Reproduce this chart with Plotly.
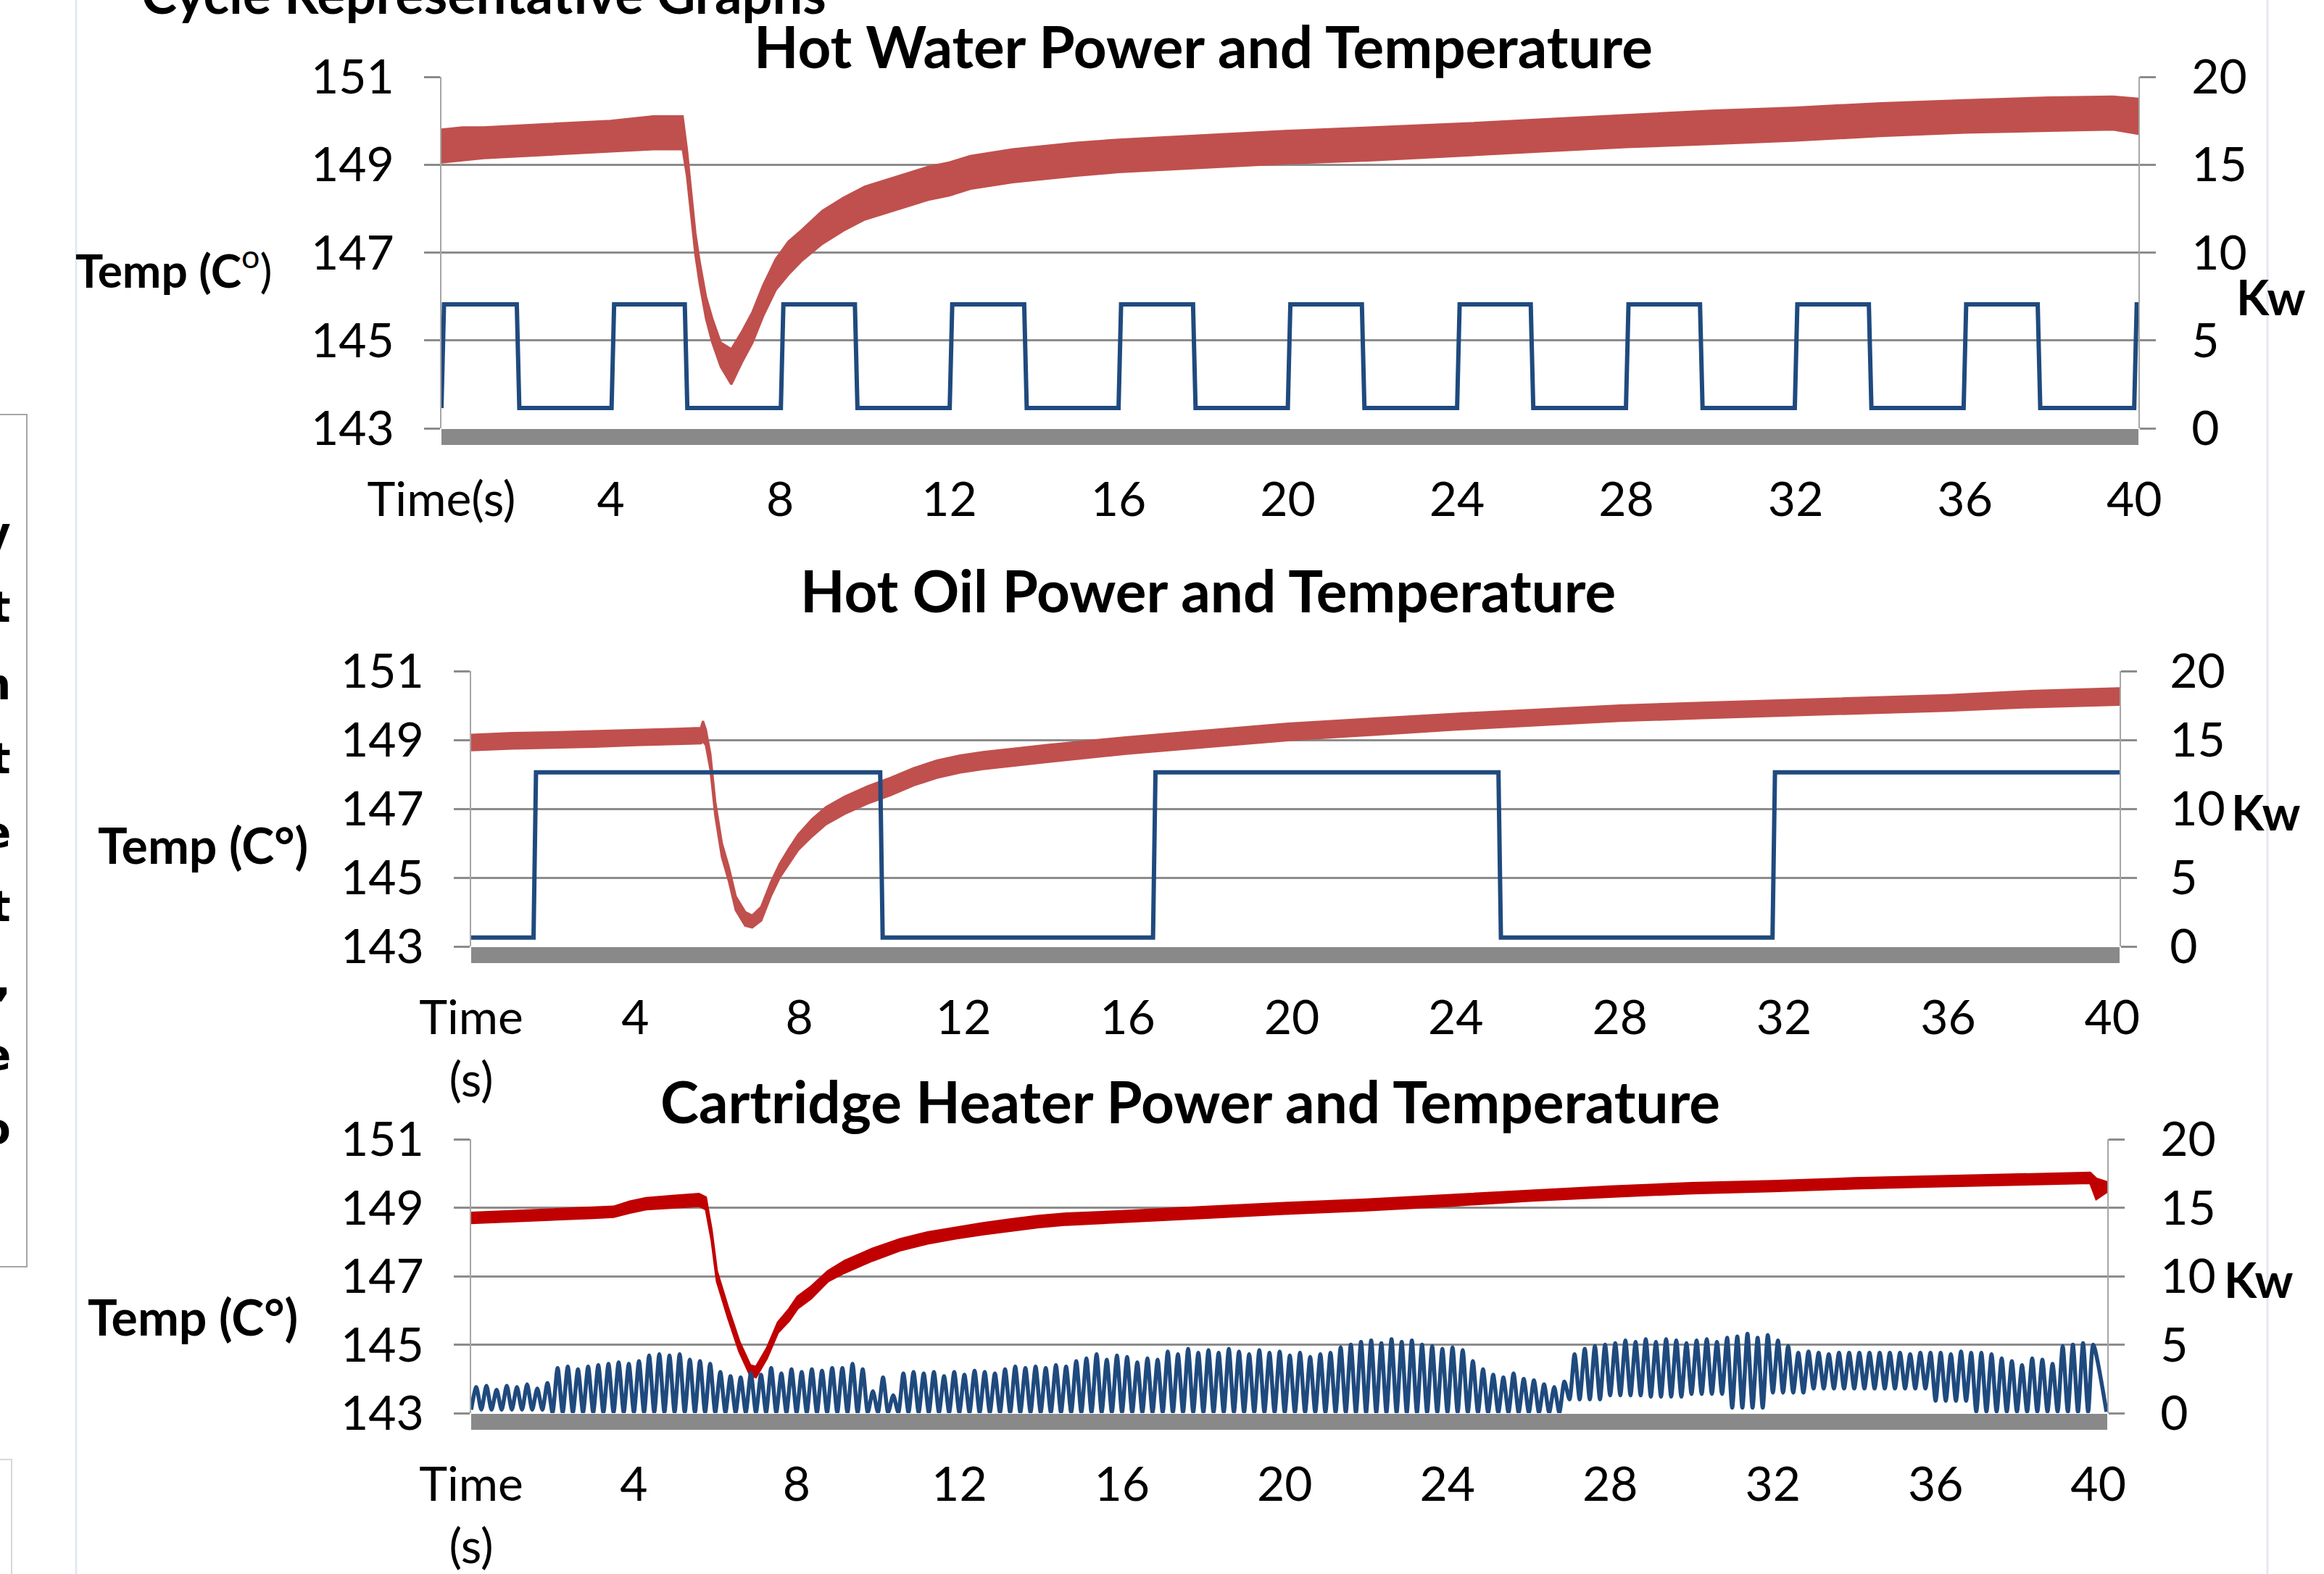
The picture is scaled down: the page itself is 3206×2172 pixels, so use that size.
import plotly.graph_objects as go

W, H = 3206, 2172

# ---------------- data ----------------
time_ticks = [0, 4, 8, 12, 16, 20, 24, 28, 32, 36, 40]
time_text_1 = ["Time(s)", "4", "8", "12", "16", "20", "24", "28", "32", "36", "40"]
time_text_2 = ["Time<br>(s)", "4", "8", "12", "16", "20", "24", "28", "32", "36", "40"]
temp_ticks = [143, 145, 147, 149, 151]
kw_ticks = [0, 5, 10, 15, 20]

# Hot water temperature band (lower / upper edge of the noisy trace)
hw_temp_t = [0, 0.5, 1, 2, 3, 4, 5, 5.7, 5.8, 5.9, 6.0, 6.1, 6.25, 6.4, 6.6, 6.85, 7.1, 7.35,
             7.6, 7.9, 8.2, 8.5, 9.0, 9.5, 10, 10.5, 11, 11.5, 12, 12.5, 13.5, 15, 16, 18, 20,
             22, 24, 26, 28, 30, 32, 34, 36, 38, 39.5, 40.1]
hw_temp_lo = [149.05, 149.10, 149.15, 149.20, 149.25, 149.30, 149.35, 149.35, 148.75, 147.85,
              146.95, 146.30, 145.50, 144.95, 144.40, 144.00, 144.50, 144.95, 145.55, 146.15,
              146.50, 146.80, 147.20, 147.50, 147.75, 147.90, 148.05, 148.20, 148.30, 148.45,
              148.60, 148.75, 148.83, 148.93, 149.03, 149.10, 149.20, 149.30, 149.40, 149.47,
              149.55, 149.65, 149.73, 149.77, 149.80, 149.70]
hw_temp_hi = [149.80, 149.85, 149.85, 149.90, 149.95, 150.00, 150.10, 150.10, 149.35, 148.40,
              147.45, 146.80, 146.00, 145.50, 144.95, 144.80, 145.20, 145.65, 146.25, 146.85,
              147.25, 147.50, 147.95, 148.25, 148.50, 148.65, 148.80, 148.95, 149.05, 149.20,
              149.35, 149.50, 149.57, 149.67, 149.77, 149.85, 149.93, 150.03, 150.13, 150.23,
              150.30, 150.40, 150.47, 150.53, 150.55, 150.50]
hw_on_t = [0.0, 4.02, 8.02, 12.01, 16.0, 20.0, 24.0, 27.99, 31.98, 35.97, 40.0]
hw_off_t = [1.78, 5.75, 9.77, 13.77, 17.76, 21.75, 25.74, 29.74, 33.73, 37.72]
hw_kw_low, hw_kw_high = 1.15, 7.05

# Hot oil
oil_temp_t = [0, 1, 2, 3, 4, 5, 5.6, 5.65, 5.72, 5.83, 5.95, 6.11, 6.28, 6.45, 6.68, 6.85, 7.07,
              7.30, 7.52, 7.75, 7.97, 8.31, 8.65, 9.10, 9.66, 10.23, 10.79, 11.35, 11.92, 12.48,
              13.25, 14, 16, 18, 20, 22, 24, 26, 28, 30, 32, 34, 36, 38, 40.18]
oil_temp_lo = [148.70, 148.75, 148.78, 148.80, 148.85, 148.88, 148.90, 148.95, 148.85, 148.15,
               146.80, 145.60, 144.90, 144.05, 143.60, 143.55, 143.75, 144.45, 145.00, 145.40,
               145.80, 146.20, 146.55, 146.85, 147.15, 147.40, 147.68, 147.90, 148.05, 148.15,
               148.25, 148.35, 148.60, 148.80, 149.00, 149.15, 149.30, 149.42, 149.55, 149.63,
               149.70, 149.78, 149.85, 149.95, 150.02]
oil_temp_hi = [149.15, 149.20, 149.22, 149.25, 149.28, 149.32, 149.35, 149.55, 149.30, 148.60,
               147.20, 146.00, 145.30, 144.45, 144.00, 143.90, 144.15, 144.85, 145.40, 145.85,
               146.25, 146.70, 147.05, 147.35, 147.65, 147.90, 148.18, 148.40, 148.55, 148.65,
               148.75, 148.85, 149.08, 149.28, 149.48, 149.62, 149.76, 149.88, 150.00, 150.08,
               150.15, 150.22, 150.30, 150.42, 150.50]
oil_on_t = [1.52, 16.62, 31.72]
oil_off_t = [9.97, 25.04]
oil_kw_low, oil_kw_high = 0.65, 12.65

# Cartridge heater
cart_temp_t = [0, 1, 2, 3, 3.5, 3.9, 4.3, 5.0, 5.6, 5.77, 5.91, 6.04, 6.31, 6.59, 6.86, 7.00, 7.27,
               7.54, 7.82, 8.02, 8.36, 8.77, 9.18, 9.86, 10.54, 11.22, 11.91, 12.59, 13.27,
               13.95, 14.63, 16.0, 18, 20, 22, 24, 26, 28, 30, 32, 34, 36, 38, 39.8, 39.95, 40.2]
cart_temp_lo = [148.55, 148.60, 148.65, 148.70, 148.73, 148.85, 148.95, 149.00, 149.05, 148.95,
                148.05, 146.85, 145.80, 144.80, 144.10, 144.05, 144.60, 145.35, 145.70, 146.05,
                146.35, 146.85, 147.10, 147.45, 147.75, 147.95, 148.10, 148.22, 148.33, 148.43,
                148.50, 148.58, 148.70, 148.82, 148.92, 149.05, 149.20, 149.32, 149.42, 149.48,
                149.56, 149.62, 149.68, 149.72, 149.25, 149.45]
cart_temp_hi = [148.85, 148.90, 148.95, 149.00, 149.03, 149.18, 149.28, 149.35, 149.40, 149.30,
                148.35, 147.15, 146.10, 145.10, 144.40, 144.35, 144.90, 145.65, 146.05, 146.40,
                146.70, 147.15, 147.45, 147.80, 148.08, 148.28, 148.42, 148.55, 148.66, 148.76,
                148.83, 148.90, 149.02, 149.14, 149.24, 149.37, 149.50, 149.62, 149.72, 149.78,
                149.86, 149.92, 149.98, 150.02, 149.85, 149.75]
# peak power of each heating cycle (4 cycles per second, 0-40 s)
cart_kw_peak = [
    1.9, 2.0, 1.7, 2.0,  1.9, 2.1, 1.8, 2.2,  3.3, 3.4, 3.2, 3.4,  3.5, 3.6, 3.7, 3.6,
    3.8, 4.2, 4.3, 4.2,  4.3, 3.9, 3.8, 3.6,  3.0, 2.7, 2.6, 2.9,  2.8, 3.3, 2.9, 3.2,
    3.0, 3.2, 3.1, 3.3,  3.3, 3.6, 3.2, 1.6,  2.6, 1.3, 2.9, 3.0,  2.9, 3.0, 2.7, 3.0,
    2.8, 3.1, 3.0, 2.9,  3.2, 3.4, 3.3, 3.4,  3.3, 3.5, 3.4, 3.8,  4.0, 4.3, 3.9, 4.2,
    4.1, 3.7, 4.0, 3.9,  4.5, 4.3, 4.7, 4.4,  4.6, 4.4, 4.7, 4.5,  4.3, 4.6, 4.4, 4.5,
    4.2, 4.4, 4.1, 4.3,  4.4, 4.8, 5.0, 5.2,  5.3, 5.1, 5.4, 5.2,  5.3, 5.0, 4.9, 4.7,
    4.8, 4.6, 3.8, 3.2,  2.8, 2.6, 2.9, 2.5,  2.4, 2.1, 1.9, 2.3,  4.3, 4.7, 4.9, 5.0,
    5.1, 5.3, 5.2, 5.4,  5.2, 5.4, 5.3, 5.1,  5.3, 5.4, 5.2, 5.5,  5.6, 5.8, 5.5, 5.7,
    5.3, 4.9, 4.4, 4.5,  4.4, 4.3, 4.4, 4.4,  4.4, 4.4, 4.4, 4.4,  4.4, 4.3, 4.4, 4.4,
    4.4, 4.3, 4.5, 4.4,  4.4, 4.3, 4.0, 3.8,  3.5, 4.0, 3.9, 3.6,  4.9, 5.0, 5.1, 5.0,
]
# trough power in each second (0-40 s)
cart_kw_trough = [0.25, 0.25, 0.05, 0.05, 0.05, 0.05, 0.05, 0.05, 0.05, 0.05,
                  0.05, 0.05, 0.05, 0.05, 0.05, 0.05, 0.05, 0.05, 0.05, 0.05,
                  0.05, 0.05, 0.05, 0.05, 0.05, 0.05, 0.05, 1.0, 1.3, 1.2,
                  1.4, 0.4, 1.5, 1.8, 1.8, 1.8, 0.9, 0.1, 0.1, 0.1]

# ---------------- styling ----------------
RED = "#C0504D"
DARK_RED = "#C00000"
BLUE = "#1F4A7E"
GRID = "#8c8c8c"
AXLINE = "#a6a6a6"
FLOOR = "#898989"
FONT = "Lato"
TICK_SIZE = 66


def square_wave(on_t, off_t, low, high, t_end, ramp=0.06):
    events = sorted([(t, 1) for t in on_t] + [(t, 0) for t in off_t])
    level = {0: low, 1: high}
    state = 0 if events[0][1] == 1 else 1
    xs, ys = [0.0], [level[state]]
    for t, s in events:
        xs += [t, t + ramp]
        ys += [level[state], level[s]]
        state = s
    xs.append(t_end)
    ys.append(level[state])
    return xs, ys


def band(t, lo, hi):
    return list(t) + list(t)[::-1], list(hi) + list(lo)[::-1]


def cycles(peaks, troughs, t_end):
    n = len(peaks)
    dt = len(troughs) / n
    xs, ys = [], []
    for i, pk in enumerate(peaks):
        sec = int(i * dt)
        xs += [i * dt, i * dt + dt / 2]
        ys += [troughs[sec], pk]
    xs.append(t_end)
    ys.append(troughs[-1])
    return xs, ys


def px(x):
    return x / W


def py(y):
    return 1 - y / H


fig = go.Figure()

panels = [
    dict(x="x", y="y", y2="y2", l=609, r=2950, t=106, b=591, xmax=40.1, ttext=time_text_1),
    dict(x="x2", y="y3", y2="y4", l=650, r=2924, t=926, b=1306, xmax=40.18, ttext=time_text_2),
    dict(x="x3", y="y5", y2="y6", l=650, r=2907, t=1572, b=1950, xmax=40.22, ttext=time_text_2),
]

# temperature traces
bx, by = band(hw_temp_t, hw_temp_lo, hw_temp_hi)
fig.add_trace(go.Scatter(x=bx, y=by, fill="toself", fillcolor=RED, mode="lines",
                         line=dict(color=RED, width=3), xaxis="x", yaxis="y", showlegend=False))
bx, by = band(oil_temp_t, oil_temp_lo, oil_temp_hi)
fig.add_trace(go.Scatter(x=bx, y=by, fill="toself", fillcolor=RED, mode="lines",
                         line=dict(color=RED, width=3), xaxis="x2", yaxis="y3", showlegend=False))
bx, by = band(cart_temp_t, cart_temp_lo, cart_temp_hi)
fig.add_trace(go.Scatter(x=bx, y=by, fill="toself", fillcolor=DARK_RED, mode="lines",
                         line=dict(color=DARK_RED, width=3), xaxis="x3", yaxis="y5", showlegend=False))

# power traces
sx, sy = square_wave(hw_on_t, hw_off_t, hw_kw_low, hw_kw_high, 40.1)
fig.add_trace(go.Scatter(x=sx, y=sy, mode="lines", line=dict(color=BLUE, width=6),
                         xaxis="x", yaxis="y2", showlegend=False))
sx, sy = square_wave(oil_on_t, oil_off_t, oil_kw_low, oil_kw_high, 40.18)
fig.add_trace(go.Scatter(x=sx, y=sy, mode="lines", line=dict(color=BLUE, width=6),
                         xaxis="x2", yaxis="y4", showlegend=False))
cx, cy = cycles(cart_kw_peak, cart_kw_trough, 40.2)
fig.add_trace(go.Scatter(x=cx, y=cy, mode="lines", line=dict(color=BLUE, width=5.5, shape="spline", smoothing=0.7),
                         xaxis="x3", yaxis="y6", showlegend=False))

layout = dict(
    width=W, height=H, margin=dict(l=0, r=0, t=0, b=0, autoexpand=False),
    paper_bgcolor="white", plot_bgcolor="white",
    font=dict(family=FONT, color="black"),
    showlegend=False,
)
shapes = []
for i, p in enumerate(panels):
    xa = "xaxis" + ("" if i == 0 else str(i + 1))
    ya = "yaxis" + ("" if i == 0 else str(2 * i + 1))
    ya2 = "yaxis" + str(2 * i + 2)
    layout[xa] = dict(
        domain=[px(p["l"]), px(p["r"])], range=[0, p["xmax"]], anchor=p["y"],
        tickvals=time_ticks, ticktext=p["ttext"], showgrid=False, zeroline=False,
        showline=False, ticks="", tickfont=dict(size=TICK_SIZE, family=FONT), ticklabelstandoff=54,
        fixedrange=True, automargin=False,
    )
    layout[ya] = dict(
        domain=[py(p["b"]), py(p["t"])], range=[143, 151], anchor=p["x"],
        tickvals=temp_ticks, showgrid=True, gridcolor=GRID, gridwidth=2.5, zeroline=False,
        showline=True, linecolor=AXLINE, linewidth=2, ticks="outside", ticklen=22,
        tickcolor=GRID, tickwidth=2.5, tickfont=dict(size=TICK_SIZE, family=FONT), ticklabelstandoff=28,
        automargin=False,
    )
    layout[ya2] = dict(
        overlaying=p["y"], side="right", range=[0, 20], anchor=p["x"],
        tickvals=kw_ticks, showgrid=False, zeroline=False,
        showline=True, linecolor=AXLINE, linewidth=2, ticks="outside", ticklen=22,
        tickcolor=GRID, tickwidth=2.5, tickfont=dict(size=TICK_SIZE, family=FONT),
        ticklabelstandoff=32 if i == 1 else 36,
        automargin=False,
    )
    shapes.append(dict(type="rect", xref="paper", yref="paper", x0=px(p["l"]), x1=px(p["r"]),
                       y0=py(p["b"] + 23), y1=py(p["b"] + 1), fillcolor=FLOOR, line=dict(width=0),
                       layer="above"))

shapes.append(dict(type="line", xref="paper", yref="paper", x0=px(105), x1=px(105), y0=0, y1=1,
                   line=dict(color="#e4e9f0", width=3), layer="below"))
shapes.append(dict(type="line", xref="paper", yref="paper", x0=px(3128), x1=px(3128), y0=0, y1=1,
                   line=dict(color="#e4e9f0", width=3), layer="below"))
shapes.append(dict(type="rect", xref="paper", yref="paper", x0=px(-20), x1=px(37), y0=py(1748), y1=py(572),
                   line=dict(color="#a6a6a6", width=2)))
shapes.append(dict(type="rect", xref="paper", yref="paper", x0=px(-20), x1=px(16), y0=py(2200), y1=py(2014),
                   line=dict(color="#d8d8d8", width=2)))
layout["shapes"] = shapes

ann = []


def text(x, y, s, size, bold=False, xanchor="center", yanchor="middle", family=FONT):
    ann.append(dict(xref="paper", yref="paper", x=px(x), y=py(y), text=("<b>%s</b>" % s) if bold else s,
                    showarrow=False, xanchor=xanchor, yanchor=yanchor, borderpad=0,
                    font=dict(size=size, family=family, color="black")))


text(194, 36, "Cycle Representative Graphs", 74, bold=True, xanchor="left", yanchor="bottom")
text(1660, 63, "Hot Water Power and Temperature", 80, bold=True)
text(1666, 814, "Hot Oil Power and Temperature", 80, bold=True)
text(1642, 1519, "Cartridge Heater Power and Temperature", 80, bold=True)
ann.append(dict(xref="paper", yref="paper", x=px(240), y=py(368), showarrow=False, xanchor="center",
                yanchor="middle", text="<b>Temp (C</b><sup>o</sup>)", borderpad=0,
                font=dict(size=64, family=FONT, color="black")))
text(280, 1165, "Temp (C°)", 68, bold=True)
text(266, 1816, "Temp (C°)", 68, bold=True)
text(3133, 409, "Kw", 66, bold=True)
text(3126, 1120, "Kw", 66, bold=True)
text(3116, 1765, "Kw", 66, bold=True)

for yy, ch in zip([736, 838, 945, 1047, 1149, 1251, 1354, 1456, 1558],
                  ["y", "t", "n", "t", "e", "t", ",", "e", "o"]):
    text(16, yy, ch, 58, bold=True, xanchor="right", family="DejaVu Sans")

layout["annotations"] = ann
fig.update_layout(**layout)

fig.write_html("out.html", config={"displayModeBar": False},
               post_script="document.body.style.margin='0';document.body.style.overflow='hidden';")
